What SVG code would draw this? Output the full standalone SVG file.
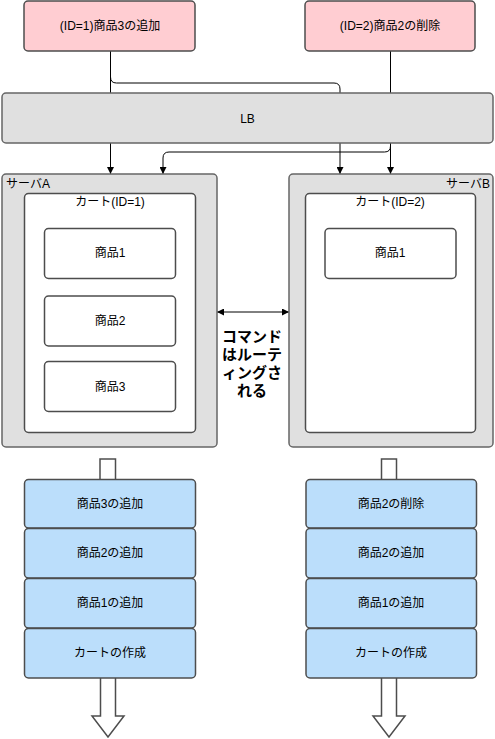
<svg xmlns="http://www.w3.org/2000/svg" width="495" height="739" viewBox="0 0 495 739">
<style>
text{font-family:"Liberation Sans","Noto Sans CJK JP",sans-serif;font-size:12px;fill:#000;text-anchor:middle;dominant-baseline:central}
.cmd{pointer-events:none}
.pink{fill:#ffcdd2;stroke:#4d4d4d;stroke-width:1.5}
.gray{fill:#e0e0e0;stroke:#666;stroke-width:1.5}
.white{fill:#fff;stroke:#4d4d4d;stroke-width:1.5}
.blue{fill:#bbdefb;stroke:#4d4d4d;stroke-width:1.5}
.edge{fill:none;stroke:#000;stroke-width:1}
.hollow{fill:#fff;stroke:#4d4d4d;stroke-width:1.5}
</style>
<defs>
<marker id="ah" viewBox="0 0 10 10" refX="10" refY="5" markerWidth="7" markerHeight="7" orient="auto-start-reverse" markerUnits="userSpaceOnUse"><path d="M0,0 L10,5 L0,10 Z" fill="#000"/></marker>
</defs>
<g id="connectors">
<path class="edge" d="M110.5,51 V174" marker-end="url(#ah)"/>
<path class="edge" d="M110.5,51 V77 Q110.5,83 116.5,83 H334 Q340,83 340,89 V174" marker-end="url(#ah)"/>
<path class="edge" d="M390.5,51 V174" marker-end="url(#ah)"/>
<path class="edge" d="M390.5,51 V146 Q390.5,152 384.5,152 H169 Q163,152 163,158 V174" marker-end="url(#ah)"/>
<path class="edge" d="M217,312 H289" marker-start="url(#ah)" marker-end="url(#ah)"/>
</g>
<g id="lb"><rect class="gray" x="2" y="93" width="491" height="50" rx="4"/><text x="247.5" y="119">LB</text></g>
<g id="cmd1"><rect class="pink" x="24" y="1" width="171" height="50" rx="4"/><text x="110" y="26">(ID=1)商品3の追加</text></g>
<g id="cmd2"><rect class="pink" x="305" y="1" width="170" height="50" rx="4"/><text x="390" y="26">(ID=2)商品2の削除</text></g>
<g id="serverA"><rect class="gray" x="2" y="174" width="215" height="273" rx="4"/><text x="6" y="184" style="text-anchor:start">サーバA</text></g>
<g id="serverB"><rect class="gray" x="289" y="174" width="204" height="273" rx="4"/><text x="490" y="184" style="text-anchor:end">サーバB</text></g>
<g id="cartA"><rect class="white" x="24.5" y="193.5" width="171" height="239" rx="4"/><text x="110" y="202">カート(ID=1)</text></g>
<g id="cartB"><rect class="white" x="305.5" y="193.5" width="170" height="239" rx="4"/><text x="390" y="202">カート(ID=2)</text></g>
<g id="itemA1"><rect class="white" x="44.5" y="228.5" width="131" height="50" rx="4"/><text x="110" y="253">商品1</text></g>
<g id="itemA2"><rect class="white" x="44.5" y="296" width="131" height="50" rx="4"/><text x="110" y="321">商品2</text></g>
<g id="itemA3"><rect class="white" x="44.5" y="361.5" width="131" height="50" rx="4"/><text x="110" y="387">商品3</text></g>
<g id="itemB1"><rect class="white" x="325" y="228.5" width="131" height="50" rx="4"/><text x="390" y="253">商品1</text></g>
<g id="routeLabel" style="font-weight:bold">
<text x="252" y="336" style="font-size:15px;font-weight:bold">コマンド</text>
<text x="252" y="354" style="font-size:15px;font-weight:bold">はルーテ</text>
<text x="252" y="372" style="font-size:15px;font-weight:bold">ィングさ</text>
<text x="252" y="390" style="font-size:15px;font-weight:bold">れる</text>
</g>
<g id="streamA">
<rect class="hollow" x="100" y="459" width="15.5" height="22"/>
<path class="hollow" d="M100.5,678 V716 H92 L108,737 L124,716 H115.5 V678"/>
<rect class="blue" x="24.5" y="479.5" width="171" height="48.5" rx="4"/><text x="110" y="504">商品3の追加</text>
<rect class="blue" x="24.5" y="528.5" width="171" height="49.5" rx="4"/><text x="110" y="553">商品2の追加</text>
<rect class="blue" x="24.5" y="578.5" width="171" height="49.5" rx="4"/><text x="110" y="603">商品1の追加</text>
<rect class="blue" x="24.5" y="628.5" width="171" height="49.5" rx="4"/><text x="110" y="653">カートの作成</text>
</g>
<g id="streamB">
<rect class="hollow" x="381.5" y="459" width="15" height="22"/>
<path class="hollow" d="M381.5,678 V716 H373 L389,737 L405,716 H396.5 V678"/>
<rect class="blue" x="306" y="479.5" width="170.5" height="48.5" rx="4"/><text x="391" y="504">商品2の削除</text>
<rect class="blue" x="306" y="528.5" width="170.5" height="49.5" rx="4"/><text x="391" y="553">商品2の追加</text>
<rect class="blue" x="306" y="578.5" width="170.5" height="49.5" rx="4"/><text x="391" y="603">商品1の追加</text>
<rect class="blue" x="306" y="628.5" width="170.5" height="49.5" rx="4"/><text x="391" y="653">カートの作成</text>
</g>
</svg>
